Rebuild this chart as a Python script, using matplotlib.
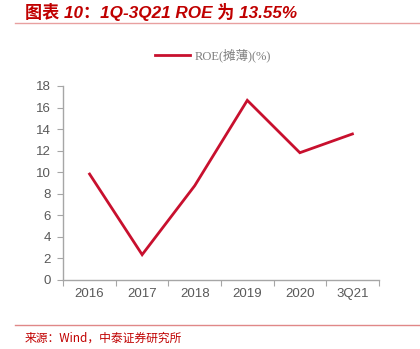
import matplotlib
matplotlib.use('Agg')
import matplotlib.pyplot as plt
from matplotlib.lines import Line2D

# ROE(摊薄) by period
periods = ['2016', '2017', '2018', '2019', '2020', '3Q21']
roe = [9.83, 2.35, 8.75, 16.67, 11.81, 13.55]
yticks = [0, 2, 4, 6, 8, 10, 12, 14, 16, 18]

line_color = '#C8102E'
title_color = '#C00000'
grey = '#595959'

fig = plt.figure(figsize=(4.2, 3.49), dpi=100)
ax = fig.add_axes([63.3 / 420, 1 - 280 / 349, 315.4 / 420, 194 / 349])

x = list(range(len(periods)))
ax.plot(x, roe, color=line_color, lw=2.0, solid_joinstyle='miter')

ax.set_xlim(-0.5, len(periods) - 0.5)
ax.set_ylim(0, 18)
ax.set_yticks(yticks)
ax.set_yticklabels([str(v) for v in yticks])

# category labels in the middle, tick marks on the boundaries
ax.set_xticks([i - 0.5 for i in range(len(periods) + 1)])
ax.set_xticklabels([])
ax.set_xticks(x, minor=True)
ax.set_xticklabels(periods, minor=True)
ax.tick_params(axis='x', which='minor', length=0, pad=6)
ax.tick_params(axis='x', which='major', length=4, color='#A6A6A6')
ax.tick_params(axis='y', length=4, color='#A6A6A6', pad=5)

for lbl in ax.get_xticklabels(minor=True) + ax.get_yticklabels():
    lbl.set_fontfamily('Liberation Sans')
    lbl.set_fontsize(9.5)
    lbl.set_color(grey)

for s in ['top', 'right']:
    ax.spines[s].set_visible(False)
for s in ['left', 'bottom']:
    ax.spines[s].set_color('#A6A6A6')
    ax.spines[s].set_linewidth(1.0)

# legend
handle = Line2D([], [], color=line_color, lw=2.0)
leg = fig.legend([handle], ['ROE(摊薄)(%)'], loc='center',
                 bbox_to_anchor=(213 / 420, 1 - 55 / 349), frameon=False,
                 handlelength=2.8, handletextpad=0.4,
                 prop={'family': ['Liberation Serif', 'Noto Sans CJK SC'], 'size': 9})
for t in leg.get_texts():
    t.set_color('#7F7F7F')

# header and footer
fig.text(25 / 420, 1 - 12 / 349, '图表 10：1Q-3Q21 ROE 为 13.55%',
         family=['Liberation Sans', 'Noto Sans CJK SC'], style='italic',
         weight='bold', fontsize=12.3, color=title_color, va='center', ha='left')
fig.add_artist(Line2D([15 / 420, 1], [1 - 23 / 349] * 2, color='#E8A0A0', lw=1.0))
fig.add_artist(Line2D([15 / 420, 1], [1 - 325 / 349] * 2, color='#E08888', lw=1.0))
fig.text(25 / 420, 1 - 338 / 349, '来源：Wind，中泰证券研究所',
         family=['Noto Sans CJK SC', 'DejaVu Sans'], fontsize=8.5,
         color=title_color, va='center', ha='left')

fig.savefig('out.png', dpi=100)
